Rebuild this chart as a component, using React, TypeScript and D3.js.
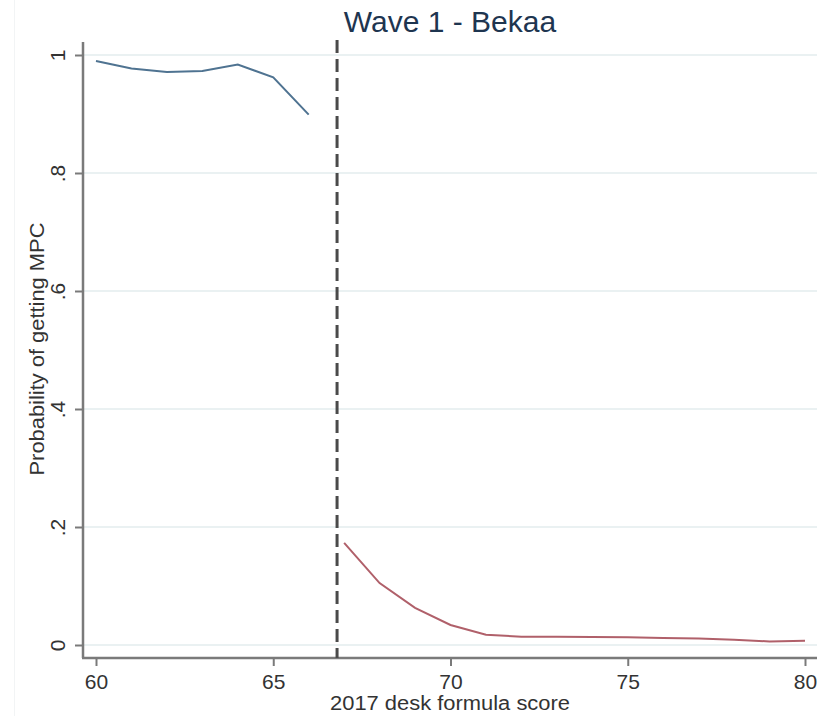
import React, { useEffect, useRef } from "react";
import * as d3 from "d3";

const leftScores = [60, 61, 62, 63, 64, 65, 66];
const leftProb = [0.99, 0.977, 0.971, 0.973, 0.984, 0.962, 0.899];

const rightScores = [67, 68, 69, 70, 71, 72, 73, 74, 75, 76, 77, 78, 79, 80];
const rightProb = [0.173, 0.105, 0.063, 0.034, 0.0175, 0.014, 0.014, 0.0135, 0.013, 0.012, 0.011, 0.009, 0.006, 0.007];

const cutoff = 66.8;
const xTicks = [60, 65, 70, 75, 80];
const yTicks = [0, 0.2, 0.4, 0.6, 0.8, 1];
const yTickLabels = ["0", ".2", ".4", ".6", ".8", "1"];

const title = "Wave 1 - Bekaa";
const xTitle = "2017 desk formula score";
const yTitle = "Probability of getting MPC";

const width = 817;
const height = 716;
const margin = { top: 42, right: 0, bottom: 58, left: 83 };
const font = "'Liberation Sans', Arial, sans-serif";

export default function App() {
  const svgRef = useRef<SVGSVGElement | null>(null);

  useEffect(() => {
    const svg = d3.select(svgRef.current);
    svg.selectAll("*").remove();

    const x = d3.scaleLinear().domain([60, 80]).range([96, 805]);
    const y = d3.scaleLinear().domain([0, 1]).range([645, 55]);
    const axisY = height - margin.bottom;

    // faint outer frame of the plot region
    svg
      .append("line")
      .attr("x1", 14.5)
      .attr("x2", 14.5)
      .attr("y1", 0)
      .attr("y2", height)
      .attr("stroke", "#f2f4f5")
      .attr("stroke-width", 1);

    // grid
    svg
      .append("g")
      .selectAll("line")
      .data(yTicks)
      .join("line")
      .attr("x1", margin.left)
      .attr("x2", width)
      .attr("y1", (d) => y(d))
      .attr("y2", (d) => y(d))
      .attr("stroke", "#eaf1f2")
      .attr("stroke-width", 2);

    // y axis
    const yAxis = svg.append("g").attr("transform", `translate(${margin.left},0)`);
    yAxis
      .call(
        d3
          .axisLeft(y)
          .tickValues(yTicks)
          .tickSize(8)
          .tickFormat((_, i) => yTickLabels[i])
      )
      .call((g) => g.select(".domain").remove());
    yAxis
      .append("line")
      .attr("x1", 0)
      .attr("x2", 0)
      .attr("y1", margin.top)
      .attr("y2", axisY)
      .attr("stroke", "#7a7a7a")
      .attr("stroke-width", 2.5);
    yAxis.selectAll(".tick line").attr("stroke", "#7a7a7a").attr("stroke-width", 2);
    yAxis
      .selectAll(".tick text")
      .attr("transform", "rotate(-90)")
      .attr("x", 0)
      .attr("y", -18)
      .attr("dy", 0)
      .attr("text-anchor", "middle")
      .attr("font-size", 21)
      .attr("fill", "#333");

    // x axis
    const xAxis = svg.append("g").attr("transform", `translate(0,${axisY})`);
    xAxis
      .call(d3.axisBottom(x).tickValues(xTicks).tickSize(8).tickFormat(d3.format("d")))
      .call((g) => g.select(".domain").remove());
    xAxis
      .append("line")
      .attr("x1", margin.left - 1)
      .attr("x2", width)
      .attr("y1", 0)
      .attr("y2", 0)
      .attr("stroke", "#7a7a7a")
      .attr("stroke-width", 2.5);
    xAxis.selectAll(".tick line").attr("stroke", "#7a7a7a").attr("stroke-width", 2);
    xAxis
      .selectAll(".tick text")
      .attr("y", 31)
      .attr("dy", 0)
      .attr("font-size", 21)
      .attr("fill", "#333");
    svg.selectAll(".tick text").attr("font-family", font);

    // cutoff
    svg
      .append("line")
      .attr("x1", x(cutoff))
      .attr("x2", x(cutoff))
      .attr("y1", 40)
      .attr("y2", axisY)
      .attr("stroke", "#4a4a4a")
      .attr("stroke-width", 3)
      .attr("stroke-dasharray", "13 6");

    const line = d3
      .line<[number, number]>()
      .x((d) => x(d[0]))
      .y((d) => y(d[1]));

    svg
      .append("path")
      .attr("fill", "none")
      .attr("stroke", "#4f7391")
      .attr("stroke-width", 2)
      .attr("d", line(leftScores.map((s, i) => [s, leftProb[i]])));

    svg
      .append("path")
      .attr("fill", "none")
      .attr("stroke", "#b0606a")
      .attr("stroke-width", 2)
      .attr("d", line(rightScores.map((s, i) => [s, rightProb[i]])));

    svg
      .append("text")
      .attr("x", 450)
      .attr("y", 32)
      .attr("text-anchor", "middle")
      .attr("font-family", font)
      .attr("font-size", 30)
      .attr("fill", "#1e3550")
      .text(title);

    svg
      .append("text")
      .attr("x", 450)
      .attr("y", 710)
      .attr("text-anchor", "middle")
      .attr("font-family", font)
      .attr("font-size", 20)
      .attr("textLength", 240)
      .attr("lengthAdjust", "spacingAndGlyphs")
      .attr("fill", "#333")
      .text(xTitle);

    svg
      .append("text")
      .attr("transform", `translate(44,349) rotate(-90)`)
      .attr("text-anchor", "middle")
      .attr("font-family", font)
      .attr("font-size", 21)
      .attr("textLength", 253)
      .attr("lengthAdjust", "spacingAndGlyphs")
      .attr("fill", "#333")
      .text(yTitle);
  }, []);

  return (
    <div style={{ position: "absolute", left: 0, top: 0 }}>
      <svg ref={svgRef} width={width} height={height} style={{ display: "block", background: "#fff" }} />
    </div>
  );
}
